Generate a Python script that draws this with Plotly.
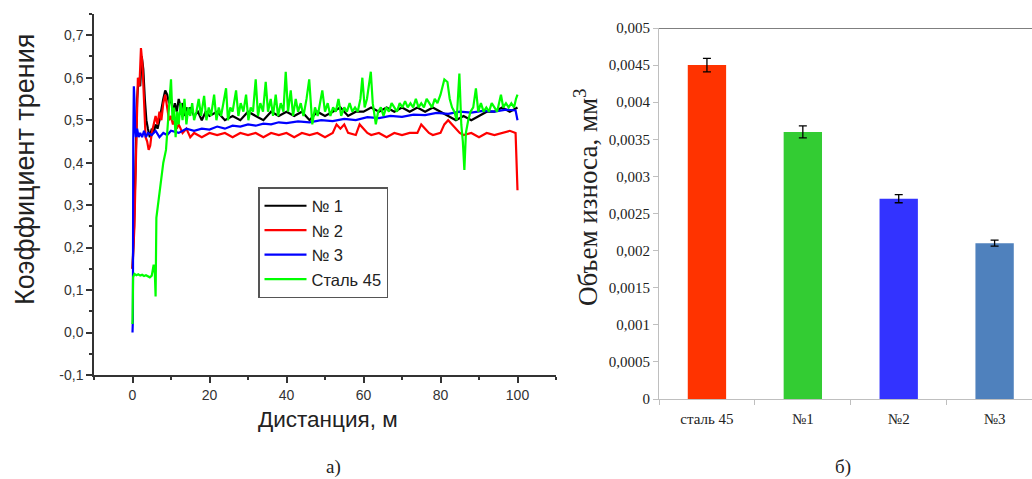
import plotly.graph_objects as go

# ---------------- data: friction coefficient vs distance ----------------
n1_x = [0, 0.4, 0.8, 1.2, 1.6, 2.0, 2.4, 2.8, 3.2, 3.6, 4.0, 4.5, 5.0, 5.5, 6.0, 6.5, 7.0, 7.5, 8.0, 8.5,
        9.0, 9.5, 10.0, 10.5, 11.0, 11.5, 12.0, 12.5, 13.0, 13.5, 14.0, 14.5, 15.0, 16, 17, 18, 19, 20,
        22, 24, 26, 28, 30, 32, 34, 36, 38, 40, 42, 44, 46, 48, 50, 52, 54, 56, 58, 60, 62, 64, 66, 68,
        70, 72, 74, 76, 78, 80, 82, 84, 86, 88, 90, 92, 94, 96, 98, 100]
n1_y = [0.15, 0.25, 0.40, 0.55, 0.60, 0.58, 0.65, 0.62, 0.55, 0.50, 0.48, 0.46, 0.48, 0.47, 0.49, 0.48, 0.50, 0.53, 0.55, 0.57,
        0.56, 0.54, 0.55, 0.52, 0.54, 0.52, 0.55, 0.53, 0.54, 0.51, 0.53, 0.52, 0.53, 0.51, 0.52, 0.50, 0.52, 0.51,
        0.52, 0.50, 0.51, 0.50, 0.52, 0.51, 0.50, 0.52, 0.51, 0.52, 0.51, 0.52, 0.50, 0.52, 0.51, 0.52, 0.53, 0.51, 0.52, 0.52, 0.53, 0.52,
        0.53, 0.52, 0.53, 0.52, 0.53, 0.52, 0.53, 0.52, 0.51, 0.50, 0.51, 0.50, 0.51, 0.52, 0.52, 0.53, 0.52, 0.53]

n2_x = [0, 0.5, 1.0, 1.4, 1.8, 2.2, 2.6, 3.0, 3.4, 3.8, 4.2, 4.6, 5.0, 5.5, 6.0, 6.5, 7.0, 7.5, 8.0, 8.5,
        9.0, 9.5, 10.0, 10.5, 11, 11.5, 12, 13, 14, 15, 16, 18, 20, 22, 24, 26, 28, 30, 32, 34, 36, 38,
        40, 42, 44, 46, 48, 50, 52, 53, 54, 55, 56, 58, 59, 60, 61, 62, 64, 66, 68, 70, 72, 74, 75, 76, 77,
        78, 80, 81, 82, 83, 84, 85, 86, 88, 90, 92, 94, 96, 98, 99.5, 100]
n2_y = [0.15, 0.25, 0.45, 0.60, 0.58, 0.67, 0.63, 0.52, 0.46, 0.45, 0.43, 0.44, 0.47, 0.49, 0.51, 0.49, 0.52, 0.50, 0.54, 0.56,
        0.53, 0.50, 0.51, 0.49, 0.50, 0.48, 0.49, 0.47, 0.48, 0.46, 0.47, 0.46, 0.47, 0.465, 0.47, 0.46, 0.47, 0.465, 0.47, 0.46, 0.47, 0.465,
        0.47, 0.46, 0.47, 0.465, 0.47, 0.46, 0.47, 0.49, 0.48, 0.49, 0.47, 0.465, 0.49, 0.48, 0.47, 0.465, 0.47, 0.46, 0.47, 0.465, 0.47, 0.47, 0.49, 0.48, 0.47,
        0.465, 0.47, 0.49, 0.50, 0.49, 0.48, 0.47, 0.465, 0.47, 0.46, 0.47, 0.465, 0.47, 0.475, 0.47, 0.335]

n3_x = [0, 0.1, 0.2, 0.35, 0.5, 0.7, 0.9, 1.2, 1.6, 2.0, 2.5, 3, 3.5, 4, 5, 6, 7, 8, 9, 10, 12, 14, 16, 18,
        20, 22, 24, 26, 28, 30, 32, 34, 36, 38, 40, 43, 46, 49, 52, 55, 58, 61, 64, 67, 70, 73, 76, 79,
        82, 85, 88, 91, 94, 97, 99.5, 100]
n3_y = [0.0, 0.03, 0.45, 0.58, 0.55, 0.48, 0.46, 0.48, 0.46, 0.47, 0.46, 0.475, 0.46, 0.47, 0.465, 0.475, 0.46, 0.47, 0.465, 0.475, 0.47, 0.48, 0.475, 0.48,
        0.478, 0.485, 0.48, 0.487, 0.485, 0.49, 0.487, 0.492, 0.49, 0.495, 0.493, 0.497, 0.495, 0.50, 0.498, 0.503, 0.50, 0.507, 0.505, 0.51, 0.508, 0.513, 0.512, 0.517,
        0.515, 0.52, 0.518, 0.522, 0.52, 0.525, 0.523, 0.50]

st_x = [0, 0.15, 0.5, 1.0, 1.5, 2.0, 2.5, 3.0, 3.5, 4.0, 4.5, 5.0, 5.5, 5.8, 6.0, 6.2, 6.6, 7.0, 7.5, 8.0,
        8.7, 9.2, 9.6, 10.0, 10.4, 10.8, 11.2, 11.6, 12.0, 12.5, 13.0, 13.5, 14.0, 14.5, 15.0, 15.5, 16.0,
        16.6, 17.2, 17.8, 18.6, 19.2, 19.8, 20.4, 21.2, 21.8, 22.4, 23.0, 23.6, 24.3, 24.8, 25.4, 26.0,
        26.9, 27.5, 28.1, 28.8, 29.5, 30.1, 30.7, 31.3, 32.0, 32.6, 33.2, 33.9, 34.6, 35.2, 35.9, 36.5,
        37.2, 37.8, 38.5, 39.2, 39.8, 40.4, 41.1, 41.7, 42.4, 43.0, 43.7, 44.4, 45.2, 45.9, 46.7, 47.4,
        48.1, 48.7, 49.3, 50.0, 50.7, 51.4, 52.1, 52.8, 53.5, 54.2, 55.0, 55.7, 56.4, 57.1, 57.8, 58.5,
        59.2, 59.7, 60.3, 60.9, 61.4, 61.9, 62.4, 63.2, 63.8, 64.5, 65.2, 65.9, 66.6, 67.3, 68.0, 68.7,
        69.4, 70.1, 70.8, 71.5, 72.2, 72.9, 73.6, 74.3, 75.0, 75.7, 76.4, 77.1, 77.8, 78.5, 79.2, 80.0,
        80.5, 81.0, 81.8, 82.4, 83.0, 83.6, 84.2, 84.9, 85.4, 85.8, 86.2, 86.6, 87.2, 87.8, 88.5, 89.2,
        89.8, 90.5, 91.2, 91.9, 92.6, 93.3, 94.0, 94.7, 95.7, 96.3, 97.0, 97.7, 98.4, 99.1, 99.6, 100.0]
st_y = [0.02, 0.13, 0.138, 0.135, 0.137, 0.134, 0.136, 0.133, 0.135, 0.132, 0.130, 0.134, 0.16, 0.14, 0.085, 0.27, 0.30, 0.33, 0.36, 0.40,
        0.43, 0.50, 0.55, 0.596, 0.50, 0.53, 0.46, 0.52, 0.49, 0.54, 0.50, 0.55, 0.49, 0.53, 0.51, 0.54, 0.50,
        0.52, 0.55, 0.51, 0.557, 0.50, 0.53, 0.51, 0.56, 0.50, 0.53, 0.51, 0.54, 0.575, 0.50, 0.53, 0.52,
        0.57, 0.51, 0.54, 0.52, 0.56, 0.50, 0.53, 0.52, 0.596, 0.51, 0.54, 0.52, 0.59, 0.52, 0.55, 0.51,
        0.56, 0.51, 0.54, 0.52, 0.614, 0.52, 0.57, 0.51, 0.55, 0.52, 0.54, 0.51, 0.55, 0.596, 0.49, 0.53,
        0.51, 0.54, 0.57, 0.52, 0.54, 0.51, 0.53, 0.52, 0.55, 0.51, 0.53, 0.52, 0.54, 0.52, 0.53, 0.52,
        0.55, 0.60, 0.53, 0.55, 0.58, 0.614, 0.54, 0.49, 0.52, 0.53, 0.51, 0.53, 0.52, 0.54, 0.53, 0.52,
        0.54, 0.53, 0.545, 0.53, 0.54, 0.53, 0.55, 0.53, 0.54, 0.53, 0.55, 0.54, 0.53, 0.55, 0.54, 0.56,
        0.58, 0.596, 0.59, 0.55, 0.53, 0.52, 0.50, 0.61, 0.49, 0.45, 0.383, 0.47, 0.50, 0.52, 0.53, 0.575,
        0.52, 0.54, 0.52, 0.53, 0.52, 0.54, 0.53, 0.52, 0.56, 0.53, 0.54, 0.53, 0.54, 0.53, 0.55, 0.56]

left_ytick_vals = [-0.1, 0.0, 0.1, 0.2, 0.3, 0.4, 0.5, 0.6, 0.7]
left_ytick_text = ["-0,1", "0,0", "0,1", "0,2", "0,3", "0,4", "0,5", "0,6", "0,7"]
left_xtick_vals = [0, 20, 40, 60, 80, 100]

# ---------------- data: wear volume ----------------
bar_cats = ["сталь 45", "№1", "№2", "№3"]
bar_vals = [0.0045, 0.0036, 0.0027, 0.0021]
bar_errs = [0.00009, 0.00008, 0.000055, 0.00004]
bar_colors = ["#FF3300", "#33CC33", "#3333FF", "#4F81BD"]
right_ytick_vals = [0, 0.0005, 0.001, 0.0015, 0.002, 0.0025, 0.003, 0.0035, 0.004, 0.0045, 0.005]
right_ytick_text = ["0", "0,0005", "0,001", "0,0015", "0,002", "0,0025", "0,003", "0,0035", "0,004", "0,0045", "0,005"]

W, H = 1032, 479
SANS = "Liberation Sans, Arial, sans-serif"
SERIF = "Liberation Serif, Times New Roman, serif"

fig = go.Figure()
for xs, ys, name, col in [(n1_x, n1_y, "№ 1", "#000000"),
                          (n2_x, n2_y, "№ 2", "#FF0000"),
                          (n3_x, n3_y, "№ 3", "#0000FF"),
                          (st_x, st_y, "Сталь 45", "#00FF00")]:
    fig.add_trace(go.Scatter(x=xs, y=ys, mode="lines", name=name,
                             line=dict(color=col, width=2.2), xaxis="x", yaxis="y"))

fig.add_trace(go.Bar(x=bar_cats, y=bar_vals, marker=dict(color=bar_colors, line=dict(width=0)),
                     error_y=dict(type="data", array=bar_errs, color="#000000", thickness=1.3, width=4),
                     width=0.4, showlegend=False, xaxis="x2", yaxis="y2"))

fig.update_layout(
    width=W, height=H, margin=dict(l=0, r=0, t=0, b=0, autoexpand=False),
    paper_bgcolor="white", plot_bgcolor="white",
    font=dict(family=SANS, color="#333333"),
    xaxis=dict(domain=[94 / W, 556 / W], range=[-10, 110], anchor="y", automargin=False,
               tickvals=left_xtick_vals, ticks="outside", ticklen=6, tickwidth=1.5, tickcolor="#333333",
               minor=dict(dtick=10, ticks="outside", ticklen=3, tickwidth=1.5, tickcolor="#333333"),
               showline=True, linecolor="#333333", linewidth=1.5, showgrid=False, zeroline=False,
               tickfont=dict(family=SANS, size=14, color="#333333")),
    yaxis=dict(domain=[1 - 375 / H, 1 - 14 / H], range=[-0.1, 0.75], anchor="x", automargin=False,
               tickvals=left_ytick_vals, ticktext=left_ytick_text,
               ticks="outside", ticklen=6, tickwidth=1.5, tickcolor="#333333",
               minor=dict(dtick=0.05, tick0=0, ticks="outside", ticklen=3, tickwidth=1.5, tickcolor="#333333"),
               showline=True, linecolor="#333333", linewidth=1.5, showgrid=False, zeroline=False,
               tickfont=dict(family=SANS, size=14, color="#333333")),
    xaxis2=dict(domain=[659 / W, 1.0], range=[-0.5, 3.39], anchor="y2", type="category", automargin=False,
                tickson="boundaries", ticks="outside", ticklen=5, tickcolor="#BFBFBF",
                ticklabelstandoff=6,
                showline=True, linecolor="#BFBFBF", linewidth=1, showgrid=False,
                tickfont=dict(family=SERIF, size=15, color="#222222")),
    yaxis2=dict(domain=[1 - 399 / H, 1 - 28 / H], range=[0, 0.005], anchor="x2", automargin=False,
                tickvals=right_ytick_vals, ticktext=right_ytick_text,
                ticks="outside", ticklen=5, tickcolor="#BFBFBF",
                showline=True, linecolor="#BFBFBF", linewidth=1, showgrid=False, zeroline=False,
                tickfont=dict(family=SERIF, size=15, color="#222222")),
    legend=dict(x=258 / W, y=1 - 187 / H, xanchor="left", yanchor="top",
                bordercolor="#555555", borderwidth=1.5, bgcolor="white", itemwidth=42,
                font=dict(family=SANS, size=16.5, color="#222222"), tracegroupgap=0),
    bargap=0.6,
    showlegend=True,
)

# top frame line of right chart
fig.add_shape(type="line", xref="paper", yref="y2", x0=659 / W, x1=1.0, y0=0.005, y1=0.005,
              line=dict(color="#7F7F7F", width=2))

fig.add_annotation(text="Коэффициент трения", xref="paper", yref="paper", x=25 / W, y=1 - 170 / H,
                   textangle=-90, showarrow=False, xanchor="center", yanchor="middle",
                   font=dict(family=SANS, size=27, color="#222222"))
fig.add_annotation(text="Дистанция, м", xref="paper", yref="paper", x=328 / W, y=1 - 419 / H,
                   showarrow=False, xanchor="center", yanchor="middle",
                   font=dict(family=SANS, size=22.5, color="#222222"))
fig.add_annotation(text="Объем износа, мм<sup>3</sup>", xref="paper", yref="paper", x=586 / W, y=1 - 197 / H,
                   textangle=-90, showarrow=False, xanchor="center", yanchor="middle",
                   font=dict(family=SERIF, size=27, color="#222222"))
fig.add_annotation(text="а)", xref="paper", yref="paper", x=333 / W, y=1 - 467 / H,
                   showarrow=False, xanchor="center", yanchor="middle",
                   font=dict(family=SERIF, size=19, color="#222222"))
fig.add_annotation(text="б)", xref="paper", yref="paper", x=843 / W, y=1 - 467 / H,
                   showarrow=False, xanchor="center", yanchor="middle",
                   font=dict(family=SERIF, size=19, color="#222222"))

fig.write_html("out.html")
